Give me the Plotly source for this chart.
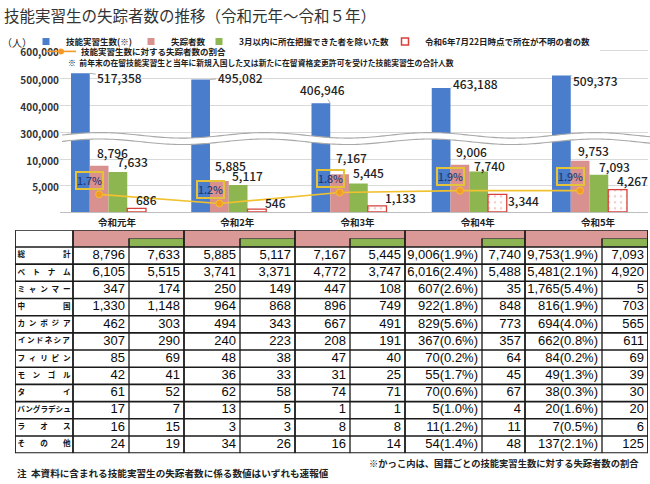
import numpy as np
import plotly.graph_objects as go

# ---------------- data ----------------
years = ["令和元年", "令和2年", "令和3年", "令和4年", "令和5年"]
trainees = [517358, 495082, 406946, 463188, 509373]
missing = [8796, 5885, 7167, 9006, 9753]
excl_3m = [7633, 5117, 5445, 7740, 7093]
unknown = [686, 546, 1133, 3344, 4267]
ratio = [1.7, 1.2, 1.8, 1.9, 1.9]

low_ticks = [5000, 10000]
high_ticks = [300000, 400000, 500000, 600000]

countries = ["総計", "ベトナム", "ミャンマー", "中国", "カンボジア", "インドネシア",
             "フィリピン", "モンゴル", "タイ", "バングラデシュ", "ラオス", "その他"]
y1_missing = [8796, 6105, 347, 1330, 462, 307, 85, 42, 61, 17, 16, 24]
y1_excl = [7633, 5515, 174, 1148, 303, 290, 69, 41, 52, 7, 15, 19]
y2_missing = [5885, 3741, 250, 964, 494, 240, 48, 36, 62, 13, 3, 34]
y2_excl = [5117, 3371, 149, 868, 343, 223, 38, 33, 58, 5, 3, 26]
y3_missing = [7167, 4772, 447, 896, 667, 208, 47, 31, 74, 1, 8, 16]
y3_excl = [5445, 3747, 108, 749, 491, 191, 40, 25, 71, 1, 8, 14]
y4_missing = [9006, 6016, 607, 922, 829, 367, 70, 55, 70, 5, 11, 54]
y4_pct = [1.9, 2.4, 2.6, 1.8, 5.6, 0.6, 0.2, 1.7, 0.6, 1.0, 1.2, 1.4]
y4_excl = [7740, 5488, 35, 848, 773, 357, 64, 45, 67, 4, 11, 48]
y5_missing = [9753, 5481, 1765, 816, 694, 662, 84, 49, 38, 20, 7, 137]
y5_pct = [1.9, 2.1, 5.4, 1.9, 4.0, 0.8, 0.2, 1.3, 0.3, 1.6, 0.5, 2.1]
y5_excl = [7093, 4920, 5, 703, 565, 611, 69, 39, 30, 20, 6, 125]

legend_names = ["技能実習生数(※)", "失踪者数", "3月以内に所在把握できた者を除いた数",
                "令和6年7月22日時点で所在が不明の者の数", "技能実習生数に対する失踪者数の割合"]
title_text = "技能実習生の失踪者数の推移（令和元年～令和５年）"
note_top = "※  前年末の在留技能実習生と当年に新規入国した又は新たに在留資格変更許可を受けた技能実習生の合計人数"
note_pct = "※かっこ内は、国籍ごとの技能実習生数に対する失踪者数の割合"
note_bottom = "注  本資料に含まれる技能実習生の失踪者数に係る数値はいずれも速報値"

# ---------------- style / layout constants ----------------
W, H = 650, 484
JP = "Noto Sans CJK JP"
NUM = "Liberation Sans"
BLUE = "#4A7DCB"
PINK = "#D9918F"
GREEN = "#8DB651"
RED = "#D8403A"
RED_DOT = "#E79C9C"
GOLD = "#F2C12E"
ORANGE = "#F39A2B"
GRID = "#D9D9D9"
T_PINK = "#DA9897"
T_GREEN = "#8DB453"
TXT = "#222222"
LINE = "#1A1A1A"
TEXT_UP = 3  # small upward nudge for CJK-font texts


def py(p):
    return 1 - p / H


def pxx(p):
    return p / W


# x axis geometry (pixels)
X0_PX, X1_PX = 60, 648
CAT_PX = 120.25
FIRST_PX = 117
xr0 = -(FIRST_PX - X0_PX) / CAT_PX
xr1 = xr0 + (X1_PX - X0_PX) / CAT_PX
BW = 18.75 / CAT_PX
OFFS = [-46 / CAT_PX + k * BW for k in range(4)]

# y axes geometry (pixels)
BASE_PX, SPLIT_PX, TOP_PX = 210.5, 137.0, 45.0
LOW_PPU = 5.3 / 1000
low_top = (BASE_PX - SPLIT_PX) / LOW_PPU
HI_PPU = 27.5 / 100000
HI_REF, HI_REF_PX = 300000, 130.0
hi_bot = HI_REF - (SPLIT_PX - HI_REF_PX) / HI_PPU
hi_top = HI_REF + (HI_REF_PX - TOP_PX) / HI_PPU
R_PPU, R_ZERO_PX = 18.57, 224.3
r_bot = (R_ZERO_PX - BASE_PX) / R_PPU
r_top = (R_ZERO_PX - SPLIT_PX) / R_PPU

xs = list(range(len(years)))

fig = go.Figure()

for yax in ("y", "y2"):
    fig.add_trace(go.Bar(x=xs, y=trainees, width=BW, offset=OFFS[0], yaxis=yax,
                         marker=dict(color=BLUE, line=dict(width=0)),
                         showlegend=False, hoverinfo="skip"))
fig.add_trace(go.Bar(x=xs, y=missing, width=BW, offset=OFFS[1], yaxis="y",
                     marker=dict(color=PINK, line=dict(width=0)),
                     showlegend=False, hoverinfo="skip"))
fig.add_trace(go.Bar(x=xs, y=excl_3m, width=BW, offset=OFFS[2], yaxis="y",
                     marker=dict(color=GREEN, line=dict(width=0)),
                     showlegend=False, hoverinfo="skip"))
fig.add_trace(go.Bar(x=xs, y=unknown, width=BW, offset=OFFS[3], yaxis="y",
                     marker=dict(color="white", line=dict(color=RED, width=1.3),
                                 pattern=dict(shape=".", fgcolor=RED_DOT, bgcolor="white",
                                              size=6, solidity=0.15)),
                     showlegend=False, hoverinfo="skip"))
line_x = [i + OFFS[1] + BW / 2 for i in xs]
fig.add_trace(go.Scatter(x=line_x, y=ratio, yaxis="y3", mode="lines+markers",
                         line=dict(color=GOLD, width=1.6),
                         marker=dict(color=ORANGE, size=7, line=dict(color=GOLD, width=1)),
                         showlegend=False, hoverinfo="skip"))

leg_specs = [
    dict(marker=dict(symbol="square", size=7, color=BLUE), mode="markers"),
    dict(marker=dict(symbol="square", size=7, color=PINK), mode="markers"),
    dict(marker=dict(symbol="square", size=7, color=GREEN), mode="markers"),
    dict(marker=dict(symbol="square", size=7, color="white", line=dict(color=RED, width=1.5)), mode="markers"),
    dict(marker=dict(symbol="circle", size=6, color=ORANGE), line=dict(color=ORANGE, width=1.6), mode="lines+markers"),
]
leg_keys = ["legend", "legend2", "legend3", "legend4", "legend5"]
for name, spec, key in zip(legend_names, leg_specs, leg_keys):
    fig.add_trace(go.Scatter(x=[None], y=[None], name=name, legend=key, yaxis="y",
                             showlegend=True, hoverinfo="skip", **spec))

leg_font = dict(family=JP, size=8.5, color=TXT, weight="bold")
leg_pos = {"legend": (66, 38), "legend2": (171, 38), "legend3": (239, 38),
           "legend4": (425, 38), "legend5": (81, 48)}
leg_layout = {}
for key, (tx, ty) in leg_pos.items():
    leg_layout[key] = dict(x=pxx(tx - 40), y=py(ty), xanchor="left", yanchor="middle",
                           orientation="h", bgcolor="rgba(0,0,0,0)", font=leg_font,
                           itemwidth=30, borderwidth=0)

# ---------------- annotations ----------------
ann = []
ann.append(dict(text=title_text, x=pxx(2), y=py(14), yshift=3, xref="paper", yref="paper",
                xanchor="left", yanchor="middle", showarrow=False,
                font=dict(family=JP, size=15.5, color="#333333")))
ann.append(dict(text="（人）", x=pxx(0), y=py(42), yshift=TEXT_UP, xref="paper", yref="paper",
                xanchor="left", yanchor="middle", showarrow=False,
                font=dict(family=JP, size=10, color=TXT)))
ann.append(dict(text=note_top, x=pxx(66), y=py(63), yshift=4, xref="paper", yref="paper",
                xanchor="left", yanchor="middle", showarrow=False,
                font=dict(family=JP, size=7.8, color=TXT, weight="bold")))
ann.append(dict(text=note_pct, x=pxx(641), y=py(465), xref="paper", yref="paper",
                xanchor="right", yanchor="middle", showarrow=False,
                font=dict(family=JP, size=9.3, color=TXT, weight="bold")))
ann.append(dict(text=note_bottom, x=pxx(15), y=py(475), xref="paper", yref="paper",
                xanchor="left", yanchor="middle", showarrow=False,
                font=dict(family=JP, size=9.6, color=TXT, weight="bold")))

lab_font = dict(family=JP, size=12, color=TXT, weight=500)
blue_axy = [(30, 4), (30, -2), (-8, -14), (25, -5), (25, 5)]
for i, v in enumerate(trainees):
    ax, ay = blue_axy[i]
    ann.append(dict(text=f"{v:,}", x=i + OFFS[0] + BW, y=v, xref="x", yref="y2",
                    showarrow=True, arrowhead=0, arrowwidth=0.8, arrowcolor="#9A9A9A",
                    ax=ax, ay=ay, standoff=0, font=lab_font))
pink_d = [(13, -10), (11, -13), (12, -13.5), (12, -10), (13, -7)]
green_d = [(15, -7), (9, -6.4), (10, -7.6), (11, -2.5), (16, -5)]
red_d = [(10, -6), (19, -3.6), (23, -5.5), (26, 9), (15, -6)]
for k, (vals, dl) in enumerate([(missing, pink_d), (excl_3m, green_d), (unknown, red_d)]):
    for i, v in enumerate(vals):
        dx, dy = dl[i]
        ann.append(dict(text=f"{v:,}", x=i + OFFS[k + 1] + BW / 2, y=v, xref="x", yref="y",
                        xanchor="center", yanchor="middle", xshift=dx, yshift=-dy + TEXT_UP,
                        showarrow=False, font=lab_font))
for i, r in enumerate(ratio):
    ann.append(dict(text=f"{r:.1f}%", x=i + OFFS[1], y=r, xref="x", yref="y3",
                    xanchor="center", yanchor="middle", yshift=11 + TEXT_UP, showarrow=False,
                    bordercolor="#E4C23A", borderwidth=2, borderpad=0,
                    font=dict(family=JP, size=10.5, color="#1F3A78", weight=500)))

# ---------------- shapes: wave break + legend cover ----------------
wx = np.linspace(62, 650, 200)
wave1 = 133.0 - 2.8 * np.cos(2 * np.pi * (wx - 100) / 165)
wave2 = wave1 + 6.5


def path_of(xp, yp):
    return "M" + " L".join(f"{pxx(a):.5f},{py(b):.5f}" for a, b in zip(xp, yp))


band = path_of(np.r_[wx, wx[::-1]], np.r_[wave1, wave2[::-1]]) + " Z"
shapes = [
    dict(type="rect", xref="paper", yref="paper", x0=pxx(58), x1=pxx(600),
         y0=py(34), y1=py(50), fillcolor="white", line=dict(width=0), layer="above"),
    dict(type="path", xref="paper", yref="paper", path=band, fillcolor="white",
         line=dict(width=0), layer="above"),
    dict(type="path", xref="paper", yref="paper", path=path_of(wx, wave1),
         line=dict(color="#A8A8A8", width=1.1), layer="above"),
    dict(type="path", xref="paper", yref="paper", path=path_of(wx, wave2),
         line=dict(color="#A8A8A8", width=1.1), layer="above"),
]

# ---------------- table (own cartesian subplot: x2 / y4, pixel-like units) ----------------
label_strs = ["総　　　　　計", "ベ　ト　ナ　ム", "ミ\u2002ャ\u2002ン\u2002マ\u2002ー",
              "中　　　　　国", "カ\u2002ン\u2002ボ\u2002ジ\u2002ア",
              "イ\u2006ン\u2006ド\u2006ネ\u2006シ\u2006ア",
              "フ\u2002ィ\u2002リ\u2002ピ\u2002ン", "モ　ン　ゴ　ル", "タ　　　　　イ",
              "バングラデシュ", "ラ　　オ　　ス", "そ　　の　　他"]


def fmt(vals):
    return [f"{v:,}" for v in vals]


def fmt_pct(vals, pcts):
    return [f"{v:,}({p:.1f}%)" for v, p in zip(vals, pcts)]


data_cols = [fmt(y1_missing), fmt(y1_excl), fmt(y2_missing), fmt(y2_excl),
             fmt(y3_missing), fmt(y3_excl), fmt_pct(y4_missing, y4_pct), fmt(y4_excl),
             fmt_pct(y5_missing, y5_pct), fmt(y5_excl)]
col_w = [58, 56, 55, 56, 55, 55, 55, 77, 43, 77, 46]
T_L, T_R, T_T = 15, 648, 229
HEAD_H, ROW_H = 17, 17.4
n_rows = len(countries)
T_B = T_T + HEAD_H + ROW_H * n_rows
bounds = list(np.cumsum([T_L] + col_w))
row_top = [T_T + HEAD_H + ROW_H * r for r in range(n_rows + 1)]
row_mid = [T_T + HEAD_H + ROW_H * (r + 0.5) for r in range(n_rows)]
HEAD_MID = T_T + HEAD_H / 2

fig.add_trace(go.Scatter(x=[(bounds[0] + bounds[1]) / 2] * n_rows, y=row_mid,
                         text=[f"<b>{s}</b>" for s in label_strs], mode="text",
                         textposition="middle center", xaxis="x2", yaxis="y4",
                         textfont=dict(family=JP, size=7.6, color="#111111"),
                         showlegend=False, hoverinfo="skip", cliponaxis=False))
for c, col in enumerate(data_cols):
    fig.add_trace(go.Scatter(x=[bounds[c + 2] - 4] * n_rows, y=row_mid, text=col,
                             mode="text", textposition="middle left",
                             xaxis="x2", yaxis="y4",
                             textfont=dict(family=NUM, size=13, color="#0A0A0A"),
                             showlegend=False, hoverinfo="skip", cliponaxis=False))

tshapes = []
for k in range(5):
    xa, xb, xc = bounds[1 + 2 * k], bounds[2 + 2 * k], bounds[3 + 2 * k]
    tshapes.append(dict(type="rect", xref="x2", yref="y4", x0=xa, x1=xc, y0=T_T, y1=T_T + HEAD_H,
                        fillcolor=T_PINK, line=dict(width=0), layer="below"))
    tshapes.append(dict(type="rect", xref="x2", yref="y4", x0=xb, x1=xc, y0=HEAD_MID, y1=T_T + HEAD_H,
                        fillcolor=T_GREEN, line=dict(color="#444444", width=0.8), layer="below"))
for yv in [T_T] + row_top:
    tshapes.append(dict(type="line", xref="x2", yref="y4", x0=T_L, x1=T_R, y0=yv, y1=yv,
                        line=dict(color=LINE, width=1.6), layer="above"))
for j, xv in enumerate(bounds):
    inner = (j >= 2) and (j % 2 == 0) and (j < len(bounds) - 1)
    tshapes.append(dict(type="line", xref="x2", yref="y4", x0=xv, x1=xv,
                        y0=HEAD_MID if inner else T_T, y1=T_B,
                        line=dict(color=LINE, width=1.3 if inner else 1.8), layer="above"))
shapes += tshapes

# ---------------- layout ----------------
tick_font = dict(family=JP, size=10, color="#333333", weight="bold")
fig.update_layout(
    width=W, height=H, margin=dict(l=0, r=0, t=0, b=0),
    paper_bgcolor="white", plot_bgcolor="rgba(0,0,0,0)",
    barmode="overlay", hovermode=False,
    xaxis=dict(domain=[pxx(X0_PX), pxx(X1_PX)], range=[xr0, xr1], anchor="y",
               tickvals=xs, ticktext=years, ticks="", showgrid=False,
               showline=True, linecolor="#BFBFBF", linewidth=1, zeroline=False,
               ticklabelstandoff=2,
               tickfont=dict(family=JP, size=9.5, color=TXT, weight="bold"),
               fixedrange=True),
    yaxis=dict(domain=[py(BASE_PX), py(SPLIT_PX)], range=[0, low_top], anchor="x",
               tickvals=low_ticks, ticktext=[f"{v:,}" for v in low_ticks],
               showgrid=True, gridcolor=GRID, gridwidth=1, zeroline=False,
               ticklabelshift=2,
               ticks="", tickfont=tick_font, fixedrange=True),
    yaxis2=dict(domain=[py(SPLIT_PX), py(TOP_PX)], range=[hi_bot, hi_top], anchor="x",
                tickvals=high_ticks, ticktext=[f"{v:,}" for v in high_ticks],
                showgrid=True, gridcolor=GRID, gridwidth=1, zeroline=False,
                ticklabelshift=2,
                ticks="", tickfont=tick_font, fixedrange=True),
    yaxis3=dict(overlaying="y", range=[r_bot, r_top], visible=False, fixedrange=True),
    xaxis2=dict(domain=[pxx(T_L), pxx(T_R)], range=[T_L, T_R], anchor="y4",
                visible=False, fixedrange=True),
    yaxis4=dict(domain=[py(T_B), py(T_T)], range=[T_B, T_T], anchor="x2",
                visible=False, fixedrange=True),
    annotations=ann,
    shapes=shapes,
    **leg_layout,
)

fig.write_html("out.html", config={"displayModeBar": False},
               post_script="document.body.style.margin='0px';document.body.style.overflow='hidden';")
